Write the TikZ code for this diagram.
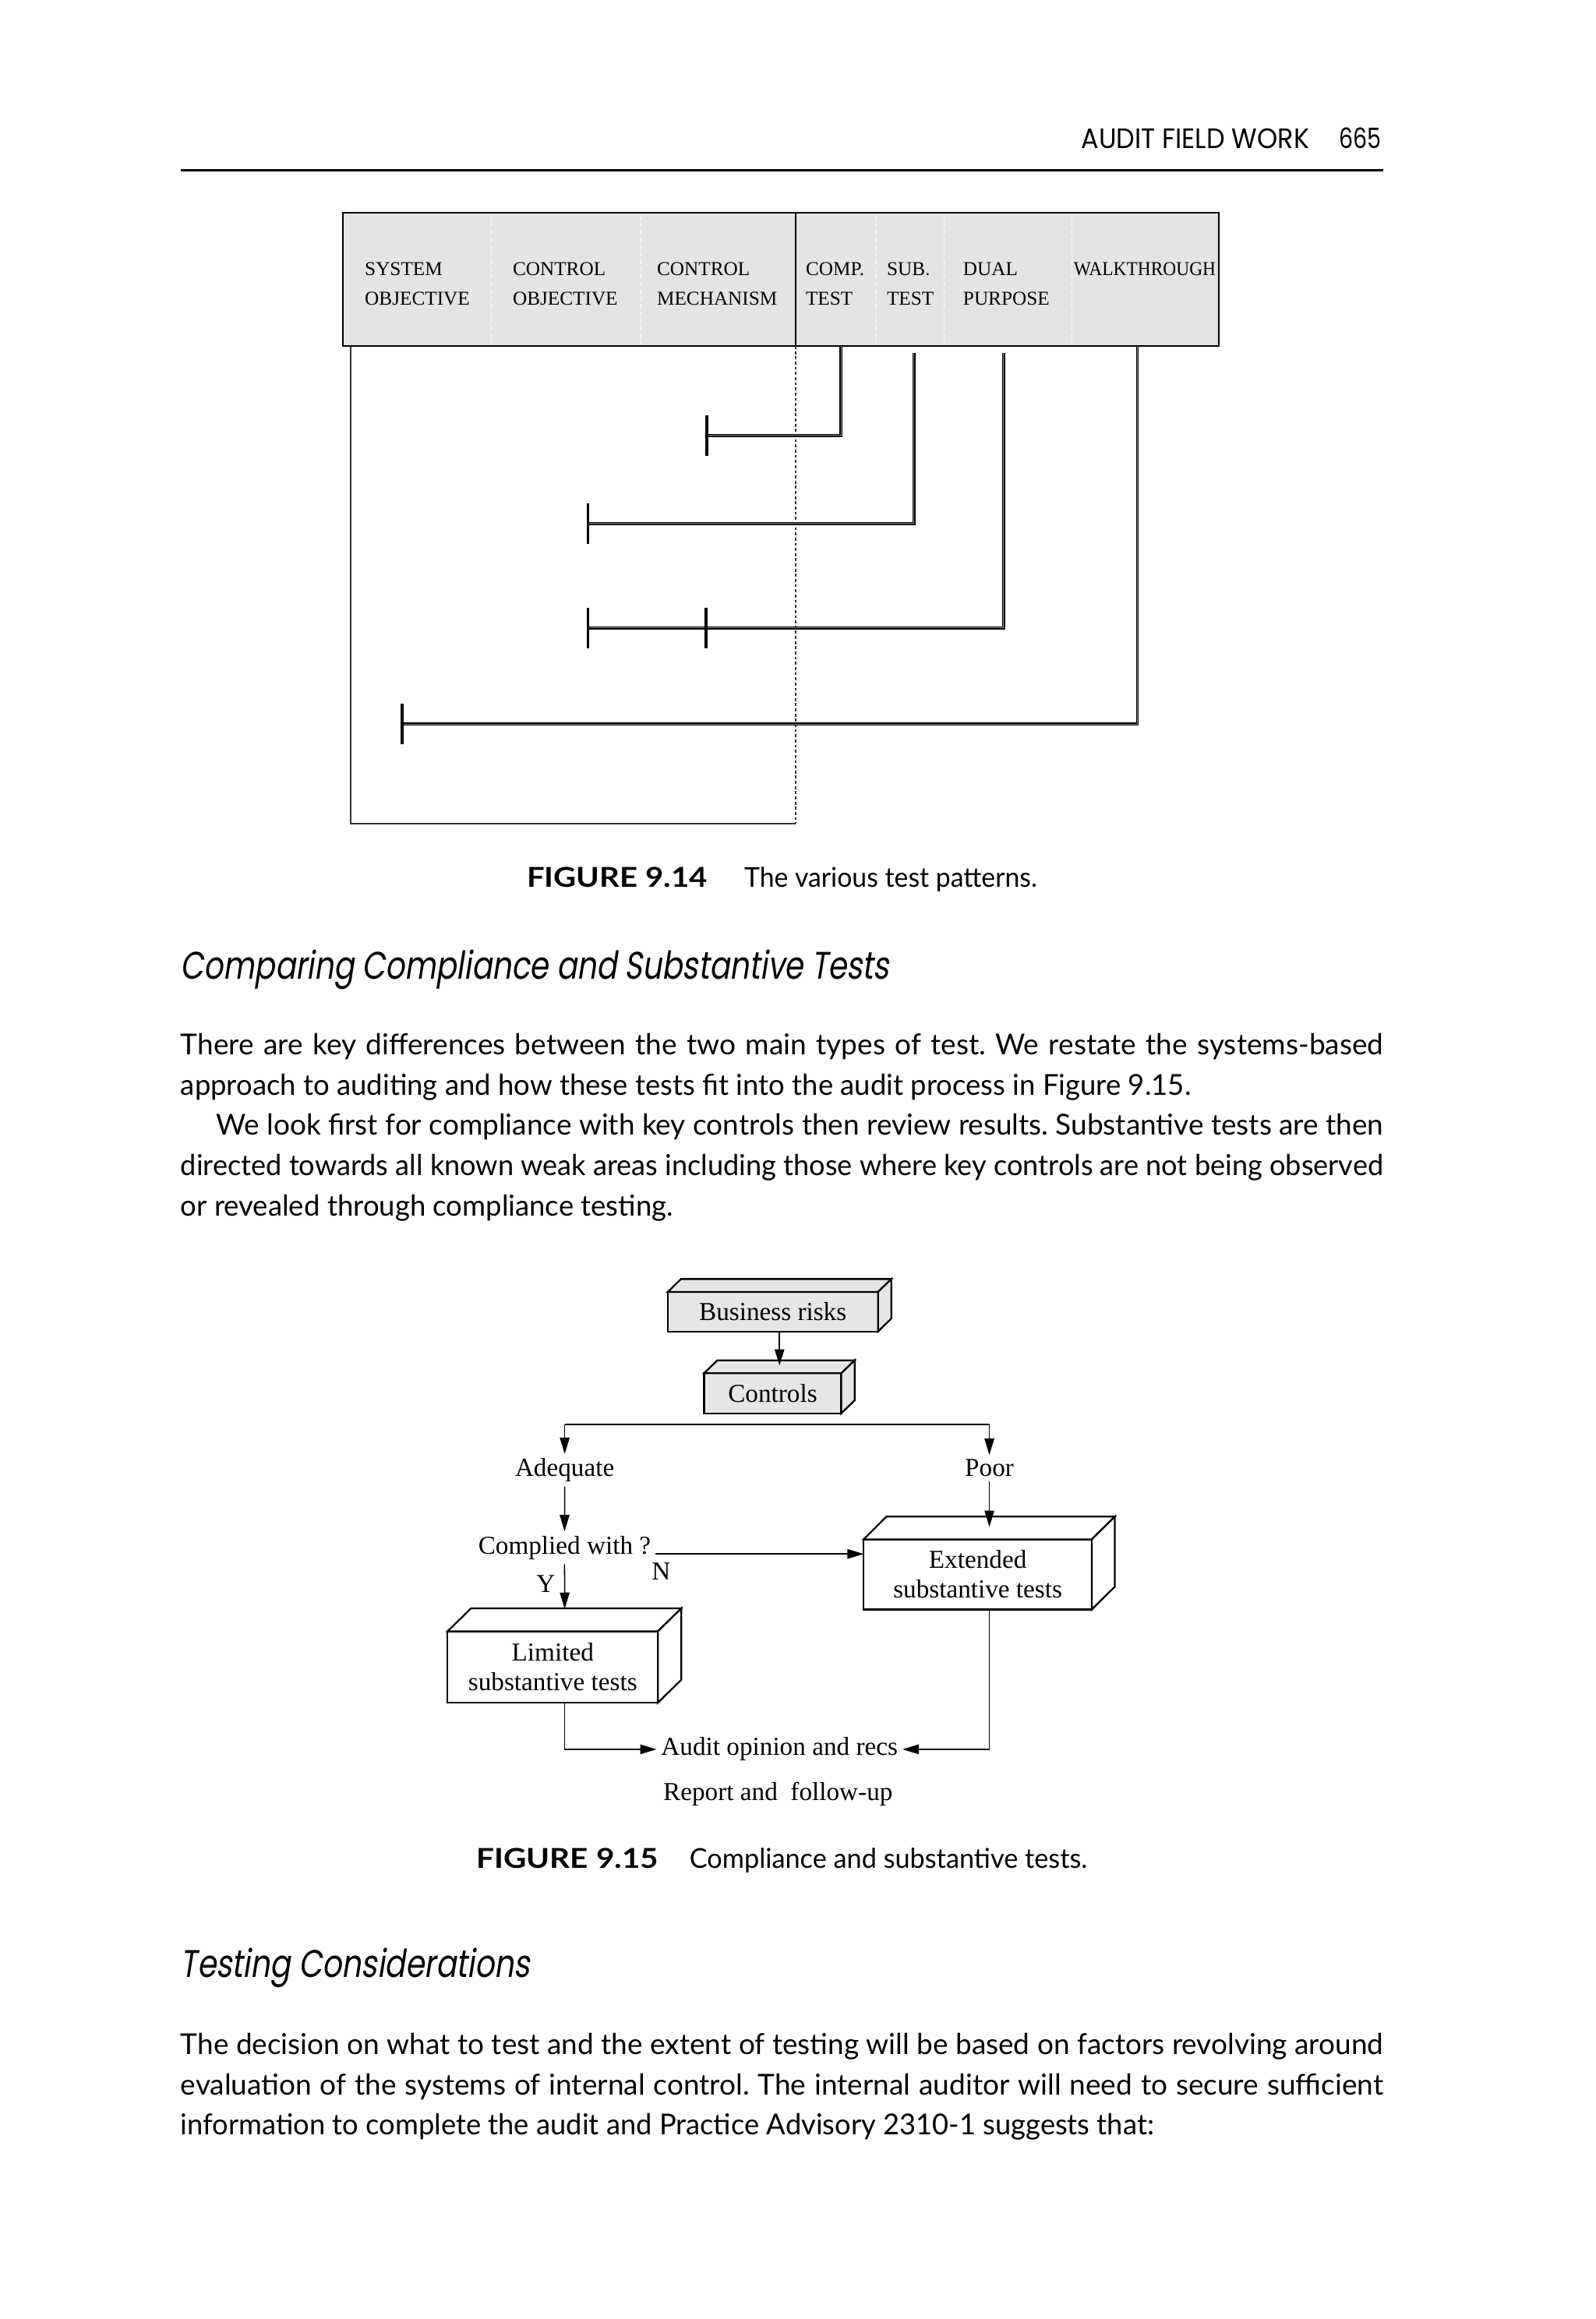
\documentclass[tikz,border=0pt]{standalone}
\usepackage{fontspec}
\usepackage{graphicx}
\setmainfont{Lato}
\newfontfamily\futfont{Poppins}
\newfontfamily\futital{Poppins}[FakeSlant=0.2]
\newfontfamily\tnr{Liberation Serif}
\usetikzlibrary{arrows.meta,calc}
\definecolor{hdrgray}{RGB}{228,228,228}
\definecolor{cubegray}{RGB}{230,230,230}
\frenchspacing
\newsavebox\jbox
\newcommand\jline[2]{\sbox\jbox{#2}\ifdim\wd\jbox>#1\relax\resizebox{#1}{\height}{\usebox\jbox}\else\makebox[#1][s]{#2}\fi}
\newcommand\sline[2]{\resizebox{#1}{\height}{#2}}
\newcommand\cubefaces[4]{%
 \filldraw[cubeline, fill=#4] (#1.north west) -- ($(#1.north west)+(#2,-#3)$) -- ($(#1.north east)+(#2,-#3)$) -- (#1.north east) -- cycle;
 \filldraw[cubeline, fill=#4] (#1.north east) -- ($(#1.north east)+(#2,-#3)$) -- ($(#1.south east)+(#2,-#3)$) -- (#1.south east) -- cycle;}
\begin{document}
\begin{tikzpicture}[x=1pt,y=-1pt,
 bodytxt/.style={anchor=base west, inner sep=0pt, font=\fontsize{19.5}{24}\selectfont},
 captxt/.style={anchor=base west, inner sep=0pt, font=\fontsize{18.5}{22}\selectfont},
 headtxt/.style={anchor=base west, inner sep=0pt, font=\futital\fontsize{26}{30}\selectfont},
 runtxt/.style={anchor=base west, inner sep=0pt, font=\futfont\fontsize{19}{22}\selectfont},
 colhdr/.style={anchor=base west, inner sep=0pt, font=\tnr\fontsize{13.3}{15}\selectfont},
 sepline/.style={white, line width=0.6pt, dash pattern=on 3pt off 2pt},
 dline/.style={double=white!55!black, line width=0.75pt, double distance=0.5pt},
 tbar/.style={line width=1.9pt},
 thinline/.style={line width=0.8pt, black!80},
 flowtxt/.style={anchor=base, inner sep=3pt, font=\tnr\fontsize{17.5}{20}\selectfont},
 flowline/.style={line width=0.8pt},
 arr/.style={flowline, -{Triangle[length=11pt,width=6.5pt]}},
 cubeline/.style={line width=1.2pt, line join=miter},
 cubefront/.style={draw, line width=1.2pt, inner sep=0pt, outer sep=0pt, align=center, anchor=north west, font=\tnr\fontsize{17.5}{20}\selectfont}]
\fill[white] (0,0) rectangle (1079,1568);
\useasboundingbox (0,0) rectangle (1079,1568);

% running head
\node[runtxt] (runhead) at (731,100.5) {\sline{154pt}{AUDIT FIELD WORK}};
\node[runtxt] (pageno) at (905.3,100.5) {\sline{28.5pt}{665}};
\coordinate (ruleL) at (122,115);
\coordinate (ruleR) at (935,115);
\draw[line width=1.7pt] (ruleL) -- (ruleR);

% ---------------- Figure 9.14 ----------------
\node[draw, line width=1.1pt, fill=hdrgray, minimum width=592pt, minimum height=90pt, anchor=north west, inner sep=0pt, outer sep=0pt] (hdr) at (232,144) {};
\foreach \sx in {332,433.5,592.5,638.5,724.7}{\draw[sepline] (\sx,145.5) -- (\sx,232.5);}
\coordinate (divtop) at (538,144);
\coordinate (divbot) at (538,234);
\draw[line width=0.9pt] (divtop) -- (divbot);

\node[colhdr] (h1a) at (246.5,186.3) {SYSTEM};
\node[colhdr] (h1b) at (246.5,206.3) {OBJECTIVE};
\node[colhdr] (h2a) at (346.5,186.3) {CONTROL};
\node[colhdr] (h2b) at (346.5,206.3) {OBJECTIVE};
\node[colhdr] (h3a) at (444,186.3) {CONTROL};
\node[colhdr] (h3b) at (444,206.3) {MECHANISM};
\node[colhdr] (h4a) at (544.6,186.3) {COMP.};
\node[colhdr] (h4b) at (544.6,206.3) {TEST};
\node[colhdr] (h5a) at (599.4,186.3) {SUB.};
\node[colhdr] (h5b) at (599.4,206.3) {TEST};
\node[colhdr] (h6a) at (651,186.3) {DUAL};
\node[colhdr] (h6b) at (651,206.3) {PURPOSE};
\node[colhdr] (h7a) at (725.8,186.3) {\sline{96pt}{WALKTHROUGH}};

% lower frame
\coordinate (frTL) at (237,234);
\coordinate (frBL) at (237,557);
\coordinate (frBR) at (538,557);
\draw[thinline] (frTL) -- (frBL) -- (frBR);
\draw[line width=0.7pt, black!80, dash pattern=on 2pt off 1.5pt] (divbot) -- (frBR);

% test pattern connectors
\coordinate (compTop) at (568.5,234);
\coordinate (subTop) at (618,238.8);
\coordinate (dualTop) at (678.6,238.8);
\coordinate (walkTop) at (769,234);
\coordinate (t1) at (478,294.5);
\coordinate (t2) at (397.5,354);
\coordinate (t3) at (397.5,424.6);
\coordinate (t3b) at (477.5,424.6);
\coordinate (t4) at (271.8,489.5);
\draw[dline] (compTop) |- (t1);
\draw[dline] (subTop) |- (t2);
\draw[dline] (dualTop) |- (t3);
\draw[dline] (walkTop) |- (t4);
\foreach \tp in {t1,t2,t3,t3b,t4}{\draw[tbar] ($(\tp)+(0,-13.6)$) -- ($(\tp)+(0,13.6)$);}

% caption 9.14
\node[captxt] (cap1a) at (356,600) {\bfseries\sline{122pt}{FIGURE 9.14}};
\node[captxt] (cap1b) at (503,600) {\sline{198pt}{The various test patterns.}};

% heading + paragraph 1
\node[headtxt] (sec1) at (122,662) {\sline{479pt}{Comparing Compliance and Substantive Tests}};
\node[bodytxt] (p1l1) at (122,713) {\jline{813pt}{There are key differences between the two main types of test. We restate the systems-based}};
\node[bodytxt] (p1l2) at (122,740.3) {\jline{683pt}{approach to auditing and how these tests fit into the audit process in Figure 9.15.}};
\node[bodytxt] (p1l3) at (146,767.6) {\jline{789pt}{We look first for compliance with key controls then review results. Substantive tests are then}};
\node[bodytxt] (p1l4) at (122,795) {\jline{813pt}{directed towards all known weak areas including those where key controls are not being observed}};
\node[bodytxt] (p1l5) at (122,822.3) {\jline{333pt}{or revealed through compliance testing.}};

% ---------------- Figure 9.15 ----------------
\node[cubefront, fill=cubegray, minimum width=142.2pt, minimum height=26.7pt] (bus) at (451.4,873.6) {Business risks};
\cubefaces{bus}{9}{8.8}{cubegray}
\node[cubefront, fill=cubegray, minimum width=92.8pt, minimum height=27.1pt] (ctl) at (476,928.5) {Controls};
\cubefaces{ctl}{9}{8.7}{cubegray}
\node[cubefront, fill=white, minimum width=154.3pt, minimum height=47.4pt] (ext) at (583.9,1040.8) {Extended\\substantive tests};
\cubefaces{ext}{15.5}{15.4}{white}
\node[cubefront, fill=white, minimum width=142.2pt, minimum height=48.3pt] (lim) at (302.6,1103) {Limited\\substantive tests};
\cubefaces{lim}{15.8}{15.5}{white}

\node[flowtxt] (adequate) at (381.8,998.4) {Adequate};
\node[flowtxt] (poor) at (668.9,998.4) {Poor};
\node[flowtxt] (complied) at (381.7,1050.7) {Complied with ?};
\node[flowtxt] (nlab) at (447,1068.2) {N};
\node[flowtxt] (ylab) at (369,1076.5) {Y};
\node[flowtxt] (audit) at (527,1187) {Audit opinion and recs};
\node[flowtxt] (report) at (526,1217.2) {Report and\ \ follow-up};

\coordinate (ctlTop) at (527,923.3);
\coordinate (splitL) at (381.8,963);
\coordinate (splitR) at (668.9,963);
\coordinate (extTop) at (668.9,1032.4);
\coordinate (limTop) at (381.8,1087.8);

\draw[arr] (bus.south -| ctlTop) -- (ctlTop);
\draw[flowline] (splitL) -- (splitR);
\draw[arr] (splitL) -- (adequate.north);
\draw[arr] (splitR) -- (poor.north);
\draw[arr] (adequate.south) -- (complied.north);
\draw[arr] (poor.south) -- (extTop);
\draw[arr] (complied.base east) -- (complied.base east -| ext.west);
\draw[arr] (complied.south) -- (limTop);
\draw[arr] (lim.south -| limTop) |- (audit.west);
\draw[arr] (ext.south -| extTop) |- (audit.east);

% caption 9.15
\node[captxt] (cap2a) at (322,1263) {\bfseries\sline{123pt}{FIGURE 9.15}};
\node[captxt] (cap2b) at (466,1263) {\sline{269pt}{Compliance and substantive tests.}};

% heading + paragraph 2
\node[headtxt] (sec2) at (122,1337) {\sline{236pt}{Testing Considerations}};
\node[bodytxt] (p2l1) at (122,1389) {\jline{813pt}{The decision on what to test and the extent of testing will be based on factors revolving around}};
\node[bodytxt] (p2l2) at (122,1416.3) {\jline{813pt}{evaluation of the systems of internal control. The internal auditor will need to secure sufficient}};
\node[bodytxt] (p2l3) at (122,1443.6) {\jline{658pt}{information to complete the audit and Practice Advisory 2310-1 suggests that:}};
\end{tikzpicture}
\end{document}
